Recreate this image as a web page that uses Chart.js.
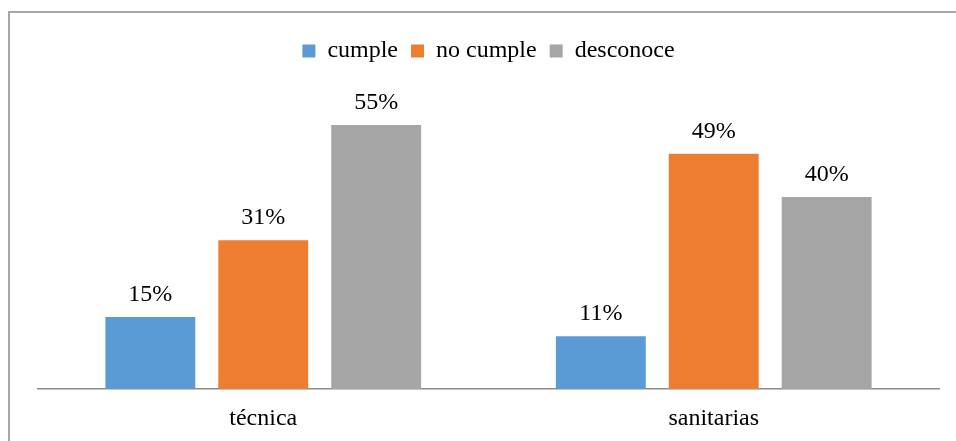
<!DOCTYPE html>
<html>
<head>
<meta charset="utf-8">
<script src="https://cdn.jsdelivr.net/npm/chart.js@4.4.1/dist/chart.umd.min.js"></script>
<style>
  html, body { margin: 0; padding: 0; background: #ffffff; overflow: hidden; }
  #frame { position: absolute; left: 8px; top: 11px; width: 2000px; height: 2000px;
           border-left: 2px solid #a6a6a6; border-top: 2px solid #a6a6a6; }
  #wrap { position: absolute; left: 0; top: 0; width: 956px; height: 441px; }
</style>
</head>
<body>
<div id="frame"></div>
<div id="wrap"><canvas id="c"></canvas></div>
<script>
const categories = ["técnica", "sanitarias"];
const seriesNames = ["cumple", "no cumple", "desconoce"];
const cumple = [15, 11];
const noCumple = [31, 49];
const desconoce = [55, 40];
const seriesColors = ["#5B9BD5", "#ED7D31", "#A5A5A5"];

Chart.defaults.font.family = "'Liberation Serif', 'Times New Roman', serif";
Chart.defaults.font.size = 24;
Chart.defaults.color = "#000000";

const legendSpacer = {
  id: "legendSpacer",
  beforeUpdate(chart) {
    const lg = chart.legend;
    if (lg && !lg._spacerPatched) {
      const orig = lg.fit;
      lg.fit = function () { orig.call(this); this.height += 28; };
      lg._spacerPatched = true;
    }
  }
};

const barLabels = {
  id: "barLabels",
  afterDatasetsDraw(chart) {
    const ctx = chart.ctx;
    ctx.save();
    ctx.font = "24px 'Liberation Serif', 'Times New Roman', serif";
    ctx.fillStyle = "#000000";
    ctx.textAlign = "center";
    ctx.textBaseline = "alphabetic";
    chart.data.datasets.forEach((ds, i) => {
      const meta = chart.getDatasetMeta(i);
      meta.data.forEach((bar, j) => {
        ctx.fillText(ds.data[j] + "%", bar.x, bar.y - 16);
      });
    });
    ctx.restore();
  }
};

const series = [cumple, noCumple, desconoce];
new Chart(document.getElementById("c"), {
  type: "bar",
  data: {
    labels: categories,
    datasets: series.map((d, i) => ({
      label: seriesNames[i],
      data: d,
      backgroundColor: seriesColors[i],
      borderWidth: 0,
      categoryPercentage: 0.752,
      barPercentage: 0.796
    }))
  },
  options: {
    responsive: true,
    maintainAspectRatio: false,
    animation: false,
    devicePixelRatio: 1,
    layout: { padding: { left: 38, right: 17, top: 26, bottom: 8 } },
    plugins: {
      legend: {
        display: true,
        position: "top",
        labels: { boxWidth: 13, boxHeight: 13, padding: 13, color: "#000000",
                  font: { size: 24 } }
      },
      tooltip: { enabled: false },
      title: { display: false }
    },
    scales: {
      x: {
        grid: { display: false, drawTicks: false },
        border: { display: true, color: "#8c8c8c", width: 1.5 },
        ticks: { padding: 15, color: "#000000", font: { size: 24 } },
        afterFit: (scale) => { scale.height = 44; }
      },
      y: {
        display: false,
        min: 0,
        max: 60
      }
    }
  },
  plugins: [legendSpacer, barLabels]
});
</script>
</body>
</html>
